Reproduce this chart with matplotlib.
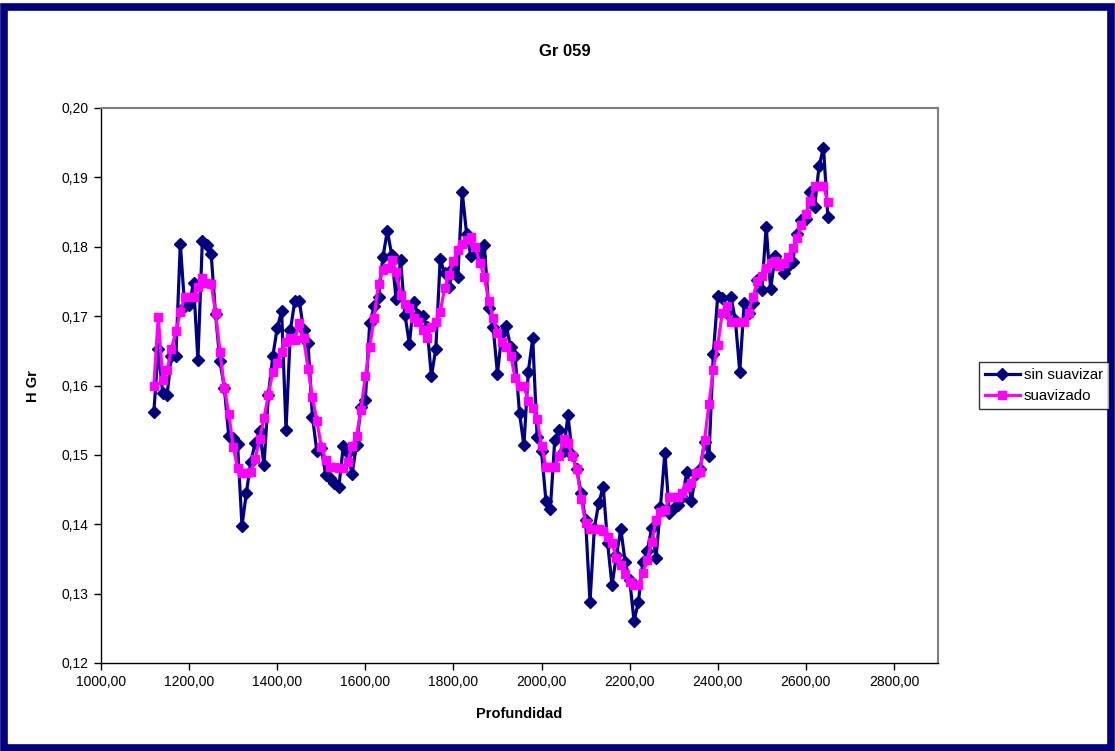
import matplotlib
matplotlib.use("Agg")
import matplotlib.pyplot as plt
from matplotlib.patches import Rectangle
from matplotlib.ticker import FuncFormatter, MultipleLocator

plt.rcParams['font.family'] = ['Liberation Sans', 'DejaVu Sans']

depth = [1120, 1130, 1140, 1150, 1160, 1170, 1180, 1190, 1200, 1210,
         1220, 1230, 1240, 1250, 1260, 1270, 1280, 1290, 1300, 1310,
         1320, 1330, 1340, 1350, 1360, 1370, 1380, 1390, 1400, 1410,
         1420, 1430, 1440, 1450, 1460, 1470, 1480, 1490, 1500, 1510,
         1520, 1530, 1540, 1550, 1560, 1570, 1580, 1590, 1600, 1610,
         1620, 1630, 1640, 1650, 1660, 1670, 1680, 1690, 1700, 1710,
         1720, 1730, 1740, 1750, 1760, 1770, 1780, 1790, 1800, 1810,
         1820, 1830, 1840, 1850, 1860, 1870, 1880, 1890, 1900, 1910,
         1920, 1930, 1940, 1950, 1960, 1970, 1980, 1990, 2000, 2010,
         2020, 2030, 2040, 2050, 2060, 2070, 2080, 2090, 2100, 2110,
         2120, 2130, 2140, 2150, 2160, 2170, 2180, 2190, 2200, 2210,
         2220, 2230, 2240, 2250, 2260, 2270, 2280, 2290, 2300, 2310,
         2320, 2330, 2340, 2350, 2360, 2370, 2380, 2390, 2400, 2410,
         2420, 2430, 2440, 2450, 2460, 2470, 2480, 2490, 2500, 2510,
         2520, 2530, 2540, 2550, 2560, 2570, 2580, 2590, 2600, 2610,
         2620, 2630, 2640, 2650]

sin_suavizar = [0.1562, 0.1653, 0.1589, 0.1587, 0.1642, 0.1642, 0.1804, 0.1714, 0.1716, 0.1748,
                0.1637, 0.1808, 0.1802, 0.1790, 0.1703, 0.1635, 0.1597, 0.1527, 0.1525, 0.1515,
                0.1398, 0.1445, 0.1490, 0.1517, 0.1534, 0.1485, 0.1587, 0.1642, 0.1683, 0.1707,
                0.1536, 0.1680, 0.1722, 0.1722, 0.1680, 0.1661, 0.1555, 0.1505, 0.1510, 0.1471,
                0.1466, 0.1460, 0.1454, 0.1513, 0.1502, 0.1473, 0.1514, 0.1569, 0.1579, 0.1690,
                0.1714, 0.1728, 0.1785, 0.1823, 0.1788, 0.1724, 0.1781, 0.1702, 0.1660, 0.1721,
                0.1702, 0.1700, 0.1685, 0.1613, 0.1653, 0.1782, 0.1762, 0.1742, 0.1770, 0.1757,
                0.1879, 0.1818, 0.1786, 0.1795, 0.1787, 0.1803, 0.1712, 0.1685, 0.1617, 0.1675,
                0.1686, 0.1655, 0.1643, 0.1560, 0.1514, 0.1620, 0.1668, 0.1526, 0.1505, 0.1434,
                0.1422, 0.1521, 0.1536, 0.1505, 0.1557, 0.1500, 0.1479, 0.1445, 0.1406, 0.1288,
                0.1395, 0.1431, 0.1454, 0.1373, 0.1312, 0.1355, 0.1393, 0.1345, 0.1320, 0.1261,
                0.1288, 0.1346, 0.1362, 0.1394, 0.1352, 0.1425, 0.1503, 0.1416, 0.1423, 0.1428,
                0.1440, 0.1476, 0.1433, 0.1473, 0.1480, 0.1519, 0.1498, 0.1646, 0.1729, 0.1726,
                0.1705, 0.1728, 0.1694, 0.1620, 0.1719, 0.1704, 0.1719, 0.1752, 0.1738, 0.1829,
                0.1739, 0.1786, 0.1776, 0.1762, 0.1772, 0.1778, 0.1819, 0.1838, 0.1840, 0.1879,
                0.1858, 0.1916, 0.1943, 0.1843]

suavizado = [0.1600, 0.1699, 0.1608, 0.1622, 0.1653, 0.1678, 0.1706, 0.1727, 0.1727, 0.1727,
             0.1742, 0.1755, 0.1748, 0.1747, 0.1705, 0.1649, 0.1596, 0.1559, 0.1512, 0.1481,
             0.1474, 0.1474, 0.1475, 0.1494, 0.1523, 0.1553, 0.1587, 0.1620, 0.1632, 0.1648,
             0.1662, 0.1668, 0.1666, 0.1690, 0.1668, 0.1624, 0.1583, 0.1549, 0.1512, 0.1493,
             0.1483, 0.1482, 0.1481, 0.1481, 0.1490, 0.1513, 0.1527, 0.1565, 0.1613, 0.1655,
             0.1698, 0.1747, 0.1767, 0.1769, 0.1781, 0.1764, 0.1730, 0.1717, 0.1712, 0.1697,
             0.1691, 0.1680, 0.1668, 0.1684, 0.1692, 0.1706, 0.1740, 0.1760, 0.1779, 0.1795,
             0.1804, 0.1810, 0.1814, 0.1799, 0.1777, 0.1757, 0.1722, 0.1698, 0.1675, 0.1662,
             0.1655, 0.1643, 0.1611, 0.1599, 0.1600, 0.1577, 0.1567, 0.1551, 0.1513, 0.1483,
             0.1483, 0.1483, 0.1498, 0.1523, 0.1517, 0.1498, 0.1479, 0.1436, 0.1402, 0.1393,
             0.1393, 0.1393, 0.1390, 0.1382, 0.1373, 0.1352, 0.1341, 0.1329, 0.1317, 0.1312,
             0.1313, 0.1330, 0.1349, 0.1375, 0.1406, 0.1418, 0.1420, 0.1440, 0.1440, 0.1440,
             0.1445, 0.1453, 0.1460, 0.1474, 0.1476, 0.1521, 0.1573, 0.1623, 0.1658, 0.1704,
             0.1714, 0.1692, 0.1691, 0.1691, 0.1692, 0.1705, 0.1728, 0.1750, 0.1758, 0.1769,
             0.1776, 0.1779, 0.1772, 0.1776, 0.1785, 0.1798, 0.1812, 0.1831, 0.1847, 0.1866,
             0.1887, 0.1887, 0.1887, 0.1865]

title = "Gr 059"
xlabel = "Profundidad"
ylabel = "H Gr"

W, H = 1115, 751
fig = plt.figure(figsize=(W / 100, H / 100), dpi=100)
fig.patch.set_facecolor("white")

# outer navy frame
fig.patches.append(Rectangle((3.5 / W, 3 / H), 1 - 8 / W, 1 - 10 / H,
                             transform=fig.transFigure, fill=False,
                             edgecolor="#000080", linewidth=5.5, zorder=0))

ax = fig.add_axes([101 / W, 1 - 663 / H, (938 - 101) / W, (663 - 108) / H])
ax.plot(depth, sin_suavizar, color="#000080", linewidth=2.3, marker="D",
        markersize=6.3, markerfacecolor="#000080", markeredgecolor="#000080",
        label="sin suavizar", zorder=3)
ax.plot(depth, suavizado, color="#FF00FF", linewidth=2.3, marker="s",
        markersize=5.5, markerfacecolor="#FF00FF", markeredgecolor="#FF00FF",
        label="suavizado", zorder=4)

ax.set_xlim(1000, 2900)
ax.set_ylim(0.12, 0.20)
ax.set_xticks([1000, 1200, 1400, 1600, 1800, 2000, 2200, 2400, 2600, 2800])
ax.yaxis.set_major_locator(MultipleLocator(0.01))
ax.xaxis.set_major_formatter(FuncFormatter(lambda v, p: f"{v:.2f}".replace(".", ",")))
ax.yaxis.set_major_formatter(FuncFormatter(lambda v, p: f"{v:.2f}".replace(".", ",")))
ax.tick_params(axis="both", direction="out", length=5, width=1, colors="black",
               labelsize=10, pad=4)

for s in ["left", "bottom"]:
    ax.spines[s].set_color("black")
    ax.spines[s].set_linewidth(1.0)
for s in ["top", "right"]:
    ax.spines[s].set_color("#808080")
    ax.spines[s].set_linewidth(1.5)

fig.text(565 / W, 1 - 52 / H, title, ha="center", va="center",
         fontsize=12, fontweight="bold")
fig.text(519 / W, 1 - 714 / H, xlabel, ha="center", va="center",
         fontsize=10.5, fontweight="bold")
fig.text(33 / W, 1 - 386 / H, ylabel, ha="center", va="center",
         fontsize=10.5, fontweight="bold", rotation=90)

leg = fig.legend(loc="upper left", bbox_to_anchor=(979 / W, 1 - 362 / H),
                 bbox_transform=fig.transFigure, fontsize=10.8, frameon=True,
                 fancybox=False, edgecolor="black", borderpad=0.4,
                 handlelength=2.3, handletextpad=0.3, labelspacing=0.45,
                 borderaxespad=0)
leg.get_frame().set_linewidth(1.0)

fig.savefig("out.png", dpi=100, facecolor="white")
